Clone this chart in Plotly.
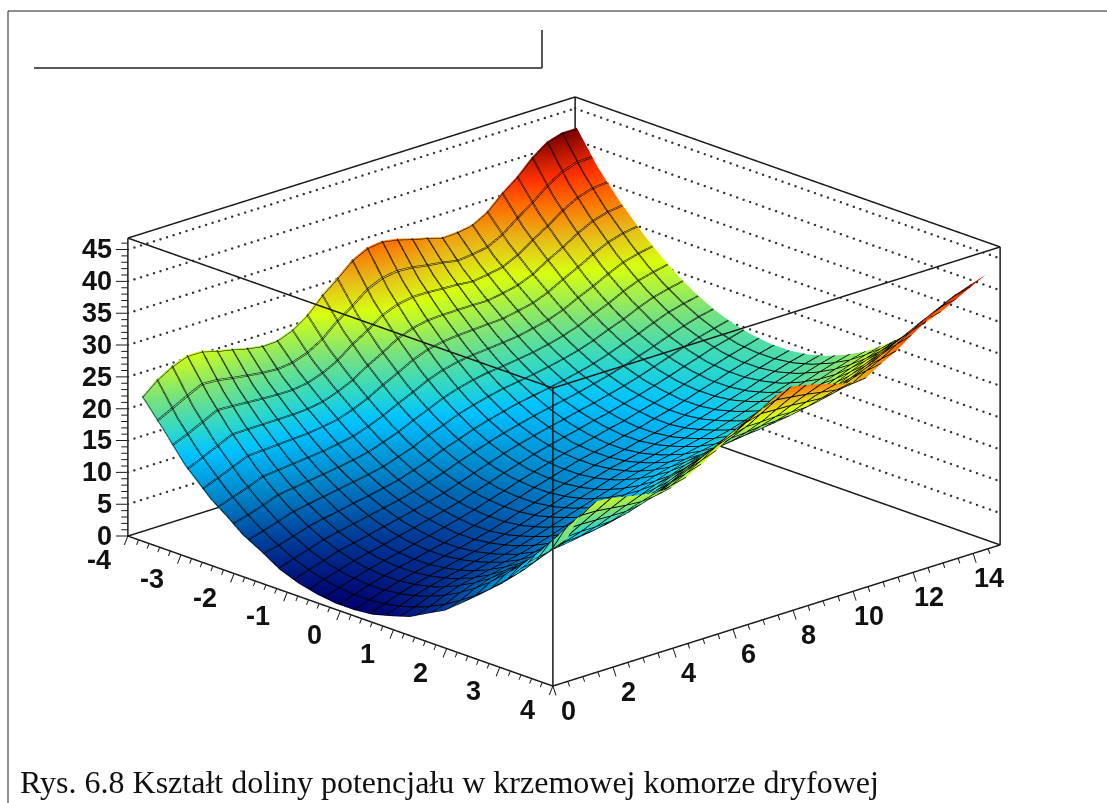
import numpy as np
import plotly.graph_objects as go

x_nodes = [-3.8,-3.4,-3.0,-2.5,-2.2,-1.9,-1.55,-1.2,-0.85,-0.5,-0.15,0.2,0.55,0.9,1.25,1.6,1.9,2.2,2.45,2.7,3.1,3.5,3.9]
y_nodes = [0.1,0.6,1.1,1.6,2.1,2.6,3.1,3.6,4.1,4.6,5.1,5.6,6.1,6.6,7.1,7.6,8.1,8.6,9.1,9.6,10.1,10.6,11.1,11.6,12.1,12.6,13.1,13.6,14.1,14.6]
z_values = [
[22.3,18.3,14.0,10.0,8.2,6.2,4.6,2.8,1.7,1.0,0.6,0.6,0.9,1.7,2.6,4.2,5.5,7.5,9.2,11.0,14.1,17.9,20.8],
[24.3,19.2,15.1,10.9,8.8,6.9,5.1,3.6,2.5,1.8,1.4,1.4,1.7,2.4,3.4,4.8,6.3,8.0,9.6,11.4,14.6,18.2,21.6],
[25.7,20.4,16.2,11.8,9.6,7.7,5.8,4.3,3.2,2.5,2.2,2.2,2.6,3.3,4.4,5.9,7.5,9.4,11.2,13.1,16.7,20.8,25.0],
[26.6,21.6,17.3,12.8,10.5,8.5,6.6,5.1,4.0,3.2,2.9,2.9,3.3,4.0,5.2,6.7,8.3,10.2,12.0,14.0,17.7,22.0,26.3],
[26.6,21.4,17.3,13.0,10.8,8.9,7.1,5.6,4.5,3.8,3.5,3.5,3.9,4.6,5.7,7.2,8.8,10.6,12.4,14.3,17.9,22.0,26.1],
[25.9,21.1,17.3,13.2,11.1,9.3,7.5,6.1,5.0,4.3,4.0,4.0,4.4,5.1,6.2,7.7,9.2,11.0,12.7,14.6,18.0,21.8,25.6],
[25.4,20.8,17.3,13.4,11.4,9.7,8.0,6.6,5.6,4.9,4.6,4.6,5.0,5.7,6.7,8.1,9.6,11.4,13.0,14.8,18.0,21.6,25.1],
[24.8,20.6,17.3,13.6,11.7,10.1,8.4,7.1,6.1,5.5,5.1,5.1,5.5,6.2,7.2,8.6,10.1,11.8,13.4,15.1,18.1,21.5,24.7],
[24.4,20.5,17.4,14.0,12.1,10.5,8.9,7.6,6.7,6.1,5.7,5.7,6.1,6.8,7.8,9.2,10.6,12.3,13.8,15.5,18.5,21.8,24.7],
[24.5,20.8,17.8,14.4,12.6,11.0,9.4,8.2,7.3,6.7,6.3,6.3,6.7,7.5,8.5,9.9,11.3,13.0,14.6,16.3,19.3,22.6,25.6],
[25.4,21.6,18.6,15.2,13.4,11.8,10.2,8.9,7.9,7.3,7.0,7.0,7.4,8.2,9.3,10.7,12.1,13.8,15.4,17.2,20.3,23.7,26.9],
[27.0,22.9,19.7,16.2,14.3,12.6,11.0,9.7,8.7,8.1,7.8,7.8,8.2,9.0,10.0,11.4,12.9,14.7,16.3,18.1,21.3,24.9,28.3],
[29.4,24.9,21.3,17.4,15.4,13.7,12.0,10.6,9.5,8.8,8.5,8.5,8.9,9.7,10.8,12.3,13.8,15.6,17.3,19.1,22.5,26.3,29.9],
[31.3,26.4,22.6,18.5,16.4,14.6,12.8,11.4,10.3,9.6,9.3,9.3,9.7,10.4,11.6,13.1,14.7,16.5,18.3,20.2,23.6,27.6,31.5],
[33.4,28.2,24.1,19.7,17.5,15.6,13.7,12.2,11.1,10.3,10.0,10.0,10.4,11.1,12.3,13.8,15.4,17.2,19.0,21.0,24.5,28.6,32.5],
[34.6,29.2,25.0,20.6,18.3,16.3,14.4,12.9,11.8,11.0,10.7,10.7,11.1,11.9,13.1,14.6,16.2,18.1,19.9,21.9,25.6,29.8,34.0],
[34.9,29.6,25.5,21.1,18.9,16.9,15.0,13.5,12.4,11.7,11.4,11.4,11.8,12.5,13.7,15.2,16.9,18.8,20.6,22.6,26.3,30.5,34.7],
[34.5,29.5,25.6,21.4,19.3,17.4,15.6,14.1,13.0,12.2,11.9,11.9,12.3,13.1,14.2,15.7,17.3,19.2,20.9,22.8,26.3,30.3,34.2],
[33.8,29.2,25.6,21.6,19.5,17.7,16.0,14.6,13.5,12.8,12.4,12.4,12.8,13.6,14.7,16.2,17.7,19.5,21.2,23.1,26.4,30.1,33.6],
[33.2,29.0,25.6,21.8,19.8,18.1,16.4,15.1,14.1,13.4,13.0,13.0,13.4,14.2,15.2,16.6,18.1,19.8,21.4,23.2,26.3,29.8,32.9],
[32.5,28.6,25.5,22.0,20.1,18.5,16.9,15.6,14.6,13.9,13.5,13.5,13.9,14.7,15.7,17.1,18.5,20.1,21.7,23.4,26.3,29.5,32.3],
[32.6,28.9,25.9,22.5,20.6,19.0,17.4,16.2,15.2,14.6,14.2,14.1,14.5,15.3,16.3,17.6,19.0,20.7,22.2,23.8,26.7,29.7,32.3],
[33.0,29.3,26.4,23.0,21.2,19.6,18.0,16.8,15.8,15.2,14.8,14.8,15.2,16.0,17.0,18.4,19.8,21.5,23.1,24.8,27.8,31.0,33.8],
[34.3,30.5,27.4,23.9,22.0,20.4,18.8,17.5,16.5,15.9,15.5,15.5,15.9,16.7,17.8,19.2,20.6,22.3,23.9,25.7,28.7,32.1,35.0],
[36.5,32.2,28.9,25.1,23.1,21.4,19.7,18.3,17.3,16.6,16.3,16.3,16.7,17.5,18.6,20.0,21.5,23.3,24.9,26.7,29.9,33.5,36.7],
[38.3,33.8,30.2,26.2,24.1,22.3,20.5,19.1,18.1,17.4,17.0,17.0,17.4,18.2,19.3,20.8,22.4,24.2,25.9,27.7,31.1,34.8,38.2],
[40.6,35.6,31.7,27.4,25.3,23.4,21.5,20.0,18.9,18.1,17.8,17.8,18.2,18.9,20.1,21.6,23.2,25.1,26.9,28.8,32.2,36.1,39.8],
[42.3,37.0,32.9,28.5,26.3,24.3,22.4,20.8,19.7,18.9,18.5,18.5,18.9,19.7,20.9,22.4,24.0,25.9,27.7,29.6,33.2,37.2,41.0],
[43.0,37.8,33.6,29.2,26.9,24.9,23.0,21.5,20.3,19.5,19.2,19.2,19.6,20.4,21.6,23.1,24.8,26.7,28.5,30.5,34.2,38.3,41.8],
[43.0,37.9,33.9,29.6,27.4,25.4,23.5,22.0,20.9,20.2,19.8,19.8,20.2,21.0,22.2,23.7,25.4,27.3,29.1,31.1,34.7,38.7,42.6],
]
x_ticks = [-4,-3,-2,-1,0,1,2,3,4]
y_ticks = [0,2,4,6,8,10,12,14]
z_ticks = [0,5,10,15,20,25,30,35,40,45]
caption = "Rys. 6.8 Kształt doliny potencjału w krzemowej komorze dryfowej"
color_levels = [0.5,5,10,15,18,22,27,31,35,38,43]
color_hexes = ["#00006e","#003a96","#0084c8","#00c3ff","#30d8c8","#7ae27c","#d8ff10","#e8b818","#ff6a00","#ff3000","#7a0000"]

X0,X1,Y0,Y1,Z0,Z1 = -4,4,0,14.9,0,46.8
cmin,cmax = color_levels[0],color_levels[-1]
cscale = [[(v-cmin)/(cmax-cmin),c] for v,c in zip(color_levels,color_hexes)]

fig = go.Figure()
# the same surface twice, mesh lines nudged a little: WebGL draws them 1px wide, the reference's are about 2px
for nudge_x,nudge_y in [(0.0,0.0),(0.014,0.026)]:
    fig.add_trace(go.Surface(
        x=x_nodes,y=y_nodes,z=z_values,colorscale=cscale,cmin=cmin,cmax=cmax,showscale=False,
        lighting=dict(ambient=1,diffuse=0,specular=0,roughness=1,fresnel=0),hoverinfo="skip",
        contours=dict(
            x=dict(show=True,start=-3.8+nudge_x,end=3.9,size=0.2852,color="#000",width=2,highlight=False),
            y=dict(show=True,start=0.1+nudge_y,end=14.6,size=0.5,color="#000",width=2,highlight=False),
            z=dict(highlight=False)),
    ))

def seg(xs,ys,zs,color="#1a1a1a",width=3,dash="solid"):
    fig.add_trace(go.Scatter3d(x=xs,y=ys,z=zs,mode="lines",line=dict(color=color,width=width,dash=dash),hoverinfo="skip",showlegend=False))

# box edges
for a,b in [((X0,Y0),(X1,Y0)),((X1,Y0),(X1,Y1)),((X1,Y1),(X0,Y1)),((X0,Y1),(X0,Y0))]:
    seg([a[0],b[0]],[a[1],b[1]],[Z0,Z0])
    seg([a[0],b[0]],[a[1],b[1]],[Z1,Z1])
for c in [(X0,Y0),(X1,Y0),(X1,Y1),(X0,Y1)]:
    seg([c[0],c[0]],[c[1],c[1]],[Z0,Z1])
# dotted grid on the back walls, one row of dots per z tick
for t in z_ticks[1:]:
    ys_left=list(np.arange(Y0,Y1,0.217)); xs_right=list(np.arange(X0,X1,0.122))
    fig.add_trace(go.Scatter3d(
        x=[X0]*len(ys_left)+xs_right,y=ys_left+[Y1]*len(xs_right),z=[t]*(len(ys_left)+len(xs_right)),
        mode="markers",marker=dict(size=1.4,color="#333",line=dict(width=0)),hoverinfo="skip",showlegend=False))

# ticks (axis decoration, built from the tick arrays)
def ticks(vals,major,fn):
    xs,ys,zs=[],[],[]
    for v in vals:
        p,q=fn(v,1.0 if v in major else 0.55)
        xs+=[p[0],q[0],None];ys+=[p[1],q[1],None];zs+=[p[2],q[2],None]
    fig.add_trace(go.Scatter3d(x=xs,y=ys,z=zs,mode="lines",line=dict(color="#1a1a1a",width=2),hoverinfo="skip",showlegend=False))
ticks([round(X0+0.2*i,1) for i in range(41)] ,[float(t) for t in x_ticks],
      lambda v,s:((v,Y0,Z0),(v+0.22*s,Y0-0.51*s,Z0)))
ticks([Y0+0.5*i for i in range(30)],[float(t) for t in y_ticks],
      lambda v,s:((X1,v,Z0),(X1+0.29*s,v-0.41*s,Z0)))
ticks([float(i) for i in range(47)],[float(t) for t in z_ticks],
      lambda v,s:((X0,Y0,v),(X0-0.107*s,Y0-0.211*s,v)))

lab = dict(family="Liberation Sans",size=27,color="#111",weight="bold")
ann=[]
for t in x_ticks:
    ann.append(dict(x=t+0.02,y=Y0-0.83,z=-2.5,text=str(t),showarrow=False,font=lab,xshift=(-5 if t<0 else -2)))
for t in y_ticks:
    ann.append(dict(x=X1+0.7,y=t-0.45,z=-0.7,text=str(t),showarrow=False,font=lab,xshift=-8,yshift=-3))
for t in z_ticks:
    ann.append(dict(x=X0-0.125,y=Y0-0.24,z=t,text=str(t),showarrow=False,font=lab,xanchor="right"))

hidden=dict(visible=False,showspikes=False)
zoom=1.58
sx,sy,sz=1.0,0.995,0.511
rx,ry,rz=12.0,21.0,62.8
fig.update_layout(
    width=1107,height=803,margin=dict(l=0,r=0,t=0,b=0),paper_bgcolor="white",showlegend=False,
    scene=dict(
        domain=dict(x=[0.019,1],y=[0.025,1]),
        xaxis=dict(range=[-6,6],**hidden),
        yaxis=dict(range=[7.45-10.5,7.45+10.5],**hidden),
        zaxis=dict(range=[23.4-31.4,23.4+31.4],**hidden),
        aspectmode="manual",
        aspectratio=dict(x=zoom*sx*rx/8,y=zoom*sy*ry/14.9,z=zoom*sz*rz/46.8),
        camera=dict(projection=dict(type="orthographic"),up=dict(x=0,y=0,z=1),
                    center=dict(x=0,y=0,z=0),eye=dict(x=0.6849*1.8,y=-0.6476*1.8,z=0.3337*1.8)),
        annotations=ann,
    ),
    shapes=[
        dict(type="rect",xref="paper",yref="paper",x0=8/1107,x1=1200/1107,y0=-0.1,y1=1-11/803,line=dict(color="#222",width=1)),
        dict(type="line",xref="paper",yref="paper",x0=34/1107,x1=542/1107,y0=1-68/803,y1=1-68/803,line=dict(color="#222",width=1.5)),
        dict(type="line",xref="paper",yref="paper",x0=542/1107,x1=542/1107,y0=1-68/803,y1=1-30/803,line=dict(color="#222",width=1.5)),
    ],
    annotations=[dict(xref="paper",yref="paper",x=18/1107,y=1-782/803,xanchor="left",yanchor="middle",showarrow=False,text=caption,
                      font=dict(family="Liberation Serif",size=32,color="#111"))],
)
fig.write_html("out.html",config=dict(displayModeBar=False),post_script="document.body.style.margin='0';document.body.style.overflow='hidden';")
